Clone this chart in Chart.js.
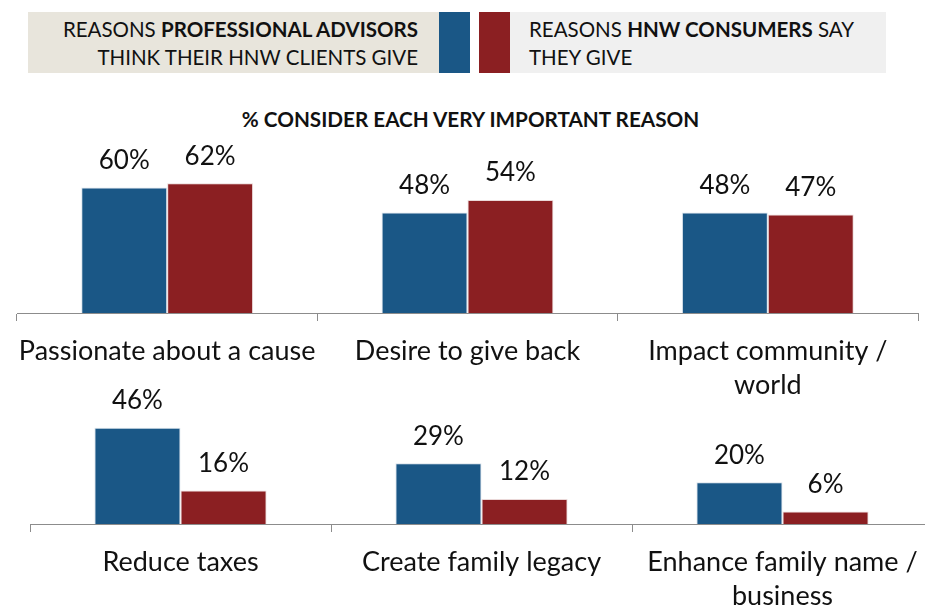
<!DOCTYPE html>
<html>
<head>
<meta charset="utf-8">
<script src="https://cdn.jsdelivr.net/npm/chart.js@4"></script>
<style>
  html, body { margin: 0; padding: 0; background: #fff; overflow: hidden; }
  body { width: 925px; height: 608px; position: relative; font-family: Lato, sans-serif; color: #111; }
  .box { position: absolute; top: 12px; height: 61px; font-size: 20.5px; line-height: 28px; }
  .box .inner { position: absolute; top: 3px; white-space: nowrap; }
  #legLeft { left: 28px; width: 411px; background: #e8e5dc; }
  #legLeft .inner { right: 21px; text-align: right; }
  #legRight { left: 510px; width: 376px; background: #f0f0f0; }
  #legRight .inner { left: 19px; }
  .sw { position: absolute; top: 12px; height: 61px; width: 31px; }
  #title { position: absolute; top: 107px; left: 0; width: 941px; text-align: center; font-weight: bold; font-size: 20.7px; }
  canvas { position: absolute; left: 0; }
</style>
</head>
<body>
<div class="box" id="legLeft"><div class="inner">REASONS <b>PROFESSIONAL ADVISORS</b><br>THINK THEIR HNW CLIENTS GIVE</div></div>
<div class="sw" style="left:439px;background:#1a5786"></div>
<div class="sw" style="left:479px;background:#8b1f22"></div>
<div class="box" id="legRight"><div class="inner">REASONS <b>HNW CONSUMERS</b> SAY<br>THEY GIVE</div></div>
<div id="title">% CONSIDER EACH VERY IMPORTANT REASON</div>
<canvas id="topChart" width="925" height="270" style="top:140px"></canvas>
<canvas id="bottomChart" width="940" height="248" style="top:360px"></canvas>
<script>
const topLabels = ['Passionate about a cause', 'Desire to give back', ['Impact community /', 'world']];
const topAdvisors = [60, 48, 48];
const topConsumers = [62, 54, 47];

const bottomLabels = ['Reduce taxes', 'Create family legacy', ['Enhance family name /', 'business']];
const bottomAdvisors = [46, 29, 20];
const bottomConsumers = [16, 12, 6];

const blue = '#1a5786';
const red = '#8b1f22';
const axisGrey = '#8c8c8c';

// draws the % value above each bar
const valueLabels = {
    id: 'valueLabels',
    afterDatasetsDraw(chart) {
        const ctx = chart.ctx;
        ctx.save();
        ctx.font = '26px Lato';
        ctx.fillStyle = '#111';
        ctx.textAlign = 'center';
        ctx.textBaseline = 'middle';
        chart.data.datasets.forEach((ds, i) => {
            chart.getDatasetMeta(i).data.forEach((bar, j) => {
                ctx.fillText(ds.data[j] + '%', bar.x, bar.y - 27);
            });
        });
        ctx.restore();
    }
};

function makeConfig(labels, advisors, consumers, pad, axisHeight) {
    return {
        type: 'bar',
        data: {
            labels: labels,
            datasets: [{
                label: 'Professional advisors',
                data: advisors,
                backgroundColor: blue,
                borderColor: 'rgba(190,205,220,0.6)',
                borderWidth: 1
            }, {
                label: 'HNW consumers',
                data: consumers,
                backgroundColor: red,
                borderColor: 'rgba(220,190,190,0.6)',
                borderWidth: 1
            }]
        },
        options: {
            responsive: false,
            animation: false,
            categoryPercentage: 0.572,
            barPercentage: 1,
            layout: { padding: pad },
            plugins: {
                legend: { display: false },
                tooltip: { enabled: false }
            },
            scales: {
                x: {
                    grid: {
                        offset: true,
                        drawOnChartArea: false,
                        color: axisGrey,
                        tickLength: 8
                    },
                    border: { color: axisGrey, width: 1 },
                    ticks: {
                        color: '#111',
                        font: { family: 'Lato', size: 27, lineHeight: 1.26 },
                        padding: 13,
                        maxRotation: 0,
                        autoSkip: false
                    },
                    afterFit(scale) { scale.height = axisHeight; }
                },
                y: {
                    display: false,
                    min: 0,
                    max: 75
                }
            }
        },
        plugins: [valueLabels]
    };
}

const TopChart = new Chart(
    document.getElementById('topChart'),
    makeConfig(topLabels, topAdvisors, topConsumers, { left: 17, right: 7, top: 16, bottom: 0 }, 97)
);

const BottomChart = new Chart(
    document.getElementById('bottomChart'),
    makeConfig(bottomLabels, bottomAdvisors, bottomConsumers, { left: 30, right: 7, top: 7, bottom: 0 }, 84)
);
</script>
</body>
</html>
